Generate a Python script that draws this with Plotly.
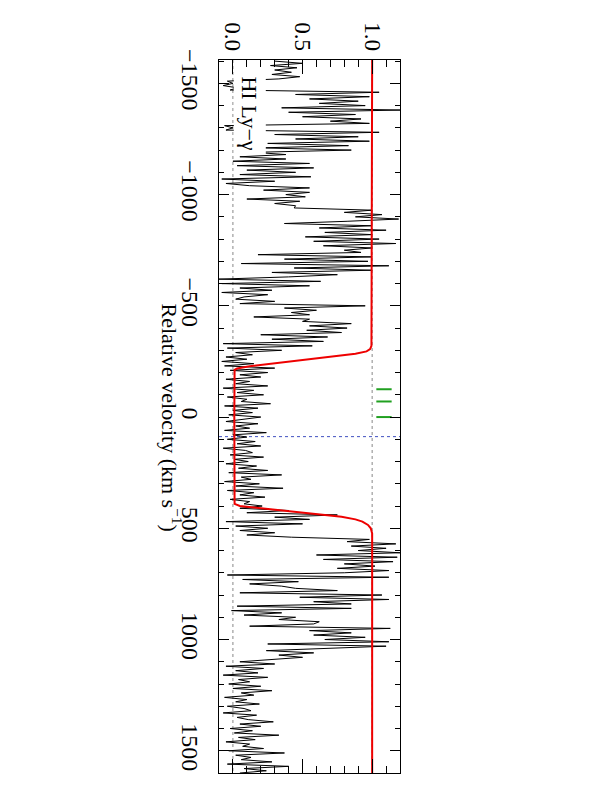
import numpy as np
import plotly.graph_objects as go

# velocity grid of the spectrum (km/s), one pixel every 10 km/s
velocity = np.arange(-1600, 1601, 10)

# normalised flux, piece by piece from top to bottom
flux_a = [0.30, 0.50, 0.27, 0.46, 0.30, 0.42, 0.28, 0.48, 0.33,
          -0.04, 0.00, -0.07, 0.03, -0.02,
          1.05, 0.45, 0.98, 0.55, 0.90, 0.62, 0.95,
          0.35, 1.20,
          0.40, 0.88, 0.50, 0.92, 0.70, 0.98,
          -0.06, 0.00, -0.05,
          1.05, 0.30, 0.90, 0.45, 0.98,
          0.25, 0.83, 0.20, 0.85,
          0.15, 0.38, 0.05,
          0.38, 0.00, 0.55, 0.03, 0.58, 0.10, 0.45, 0.05, 0.56]
flux_b = [-0.08, 0.30, -0.05, 0.12,
          0.55, 0.22, 0.55, 0.38, 0.52,
          0.10, 0.48, 0.30, 0.45,
          0.44, 1.00, 0.80,
          1.07, 0.88, 1.19,
          0.82, 0.37, 1.00, 0.62,
          1.10, 0.66, 1.00,
          0.52, 1.05, 0.58, 1.17,
          0.65, 1.00, 0.80, 0.92,
          0.18, 1.00, 0.37, 0.97,
          0.06, 1.12, 0.44, 1.00,
          0.28, 0.75, 0.40,
          -0.10, 0.63, -0.08, 0.55, 0.05,
          0.28, -0.08, 0.25, 0.08]
flux_c = [0.02, 0.30, 0.05, 0.95,
          0.37, 0.60, 0.42, 0.55,
          0.15, 0.55, 0.50, 0.85,
          0.55, 0.82, 0.53, 0.78,
          0.20, 0.68, 0.28, 0.65,
          -0.07, 0.57, -0.04, 0.35,
          0.02, 0.14, -0.05, 0.10, -0.08, 0.15,
          -0.06, 0.30, -0.02, 0.25,
          0.05, 0.20, -0.05, 0.12, 0.02, 0.25, -0.07, 0.15, 0.03, 0.22,
          -0.04, 0.10, 0.06, 0.27, -0.06, 0.18, 0.00, 0.14, -0.03, 0.20]
flux_d = [0.08, -0.05, 0.18, 0.02, 0.12, -0.06, 0.24, 0.00, 0.10, -0.04,
          0.16, 0.03, 0.20, -0.07, 0.09, 0.14, -0.02, 0.22, 0.01, 0.11,
          -0.05, 0.17, 0.04, 0.25, -0.03, 0.35, 0.06, 0.13, -0.06, 0.19,
          0.02, 0.36, -0.04, 0.15, 0.05, 0.23, -0.02, 0.12, 0.08, 0.21]
flux_e = [0.05, 0.40, 0.10, 0.75, 0.30, 0.55, -0.05, 0.50, 0.02, 0.25,
          0.05, 0.30, 0.10, 0.42]
flux_f = [0.98, 0.82, 1.17, 0.85, 1.10, 0.90,
          1.20, 0.60, 1.18, 0.65, 1.15, 0.80, 1.02, 0.75,
          1.12, 0.80, -0.04, 1.12,
          0.07, 0.47, 0.12, 0.35, 0.45,
          0.75, 0.05, 1.07,
          0.48, 1.12, 0.58, 0.85,
          0.03, 0.85, -0.01, 0.35,
          0.08, 0.45, 0.33, 0.62, 0.58,
          0.12, 1.13, 0.55,
          0.85, 0.58, 0.95, 0.66,
          1.12, 0.25, 1.10, 0.60,
          0.24, 0.58, 0.33, 0.50]
flux_g = [0.28, 0.05, 0.30, -0.05, 0.22, 0.02, 0.18, -0.07, 0.25, 0.04,
          0.12, -0.03, 0.20, 0.00, 0.28, 0.06, 0.15, -0.06, 0.10, 0.02,
          0.19, -0.04, 0.08, 0.13, -0.07, 0.17, 0.03, 0.11, 0.29, 0.05,
          0.20, -0.02, 0.14, 0.01, 0.33, 0.04, 0.16, -0.05, 0.12, 0.07,
          0.22, -0.03, 0.37, 0.02, 0.13, 0.06, 0.28, -0.04, 0.40, 0.08,
          0.24, 0.05]
flux = flux_a + flux_b + flux_c + flux_d + flux_e + flux_f + flux_g
assert len(flux) == len(velocity)

# fitted model (red)
model_v = [-1605, -400, -340, -320, -305, -295, -285, -270, -255, -240,
           -228, -218, -212, 0, 200, 390, 400, 411, 426, 440, 448, 460,
           470, 485, 500, 523, 1600]
model_flux = [1.0, 1.0, 1.0, 0.995, 0.985, 0.96, 0.88, 0.68, 0.47, 0.28,
              0.12, 0.03, 0.012, 0.01, 0.01, 0.012, 0.05, 0.22, 0.49,
              0.68, 0.78, 0.88, 0.93, 0.97, 0.99, 1.0, 1.0]

# component positions (green ticks) and systemic velocity (blue dotted)
components_v = [-125, -70, 0]
comp_flux = [1.03, 1.14]
systemic_v = 88
ref_levels = [0.0, 1.0]

v_range = [1600, -1605]
f_range = [-0.1, 1.2]
font = dict(family="Liberation Serif", size=22, color="black")

fig = go.Figure()

for lvl in ref_levels:
    fig.add_trace(go.Scatter(x=[lvl, lvl], y=[v_range[1], v_range[0]], mode='lines',
                             line=dict(color='#888888', width=1, dash='dot'),
                             hoverinfo='skip'))
fig.add_trace(go.Scatter(x=f_range, y=[systemic_v, systemic_v], mode='lines',
                         line=dict(color='#4050c0', width=1, dash='dot'),
                         hoverinfo='skip'))

fig.add_trace(go.Scatter(x=flux, y=velocity, mode='lines',
                         line=dict(color='black', width=1)))
fig.add_trace(go.Scatter(x=model_flux, y=model_v, mode='lines',
                         line=dict(color='#ee0000', width=2)))

for cv in components_v:
    fig.add_trace(go.Scatter(x=comp_flux, y=[cv, cv], mode='lines',
                             line=dict(color='#20a020', width=2)))

fig.add_annotation(x=0.122, y=-1365, xref='x', yref='y', text="HI Ly−γ",
                   textangle=90, showarrow=False, bgcolor='white',
                   borderpad=3, font=font)
fig.add_annotation(x=-0.262, y=0, xref='paper', yref='y',
                   xanchor='center', yanchor='middle',
                   text="Relative velocity (km s<sup>−1</sup>)",
                   textangle=90, showarrow=False, font=font)

fig.update_layout(
    width=600, height=789,
    margin=dict(l=211, r=208, t=52, b=24),
    paper_bgcolor='white', plot_bgcolor='white',
    showlegend=False, font=font,
    xaxis=dict(range=f_range, side='top', tickvals=[0, 0.5, 1.0],
               ticktext=['0.0', '0.5', '1.0'], tickangle=90,
               tickfont=dict(family="Liberation Serif", size=23, color="black"),
               ticks='inside', ticklen=14, tickwidth=1, tickcolor='black',
               showline=True, linecolor='black', linewidth=1,
               mirror='allticks', showgrid=False, zeroline=False,
               minor=dict(tickmode='linear', tick0=0, dtick=0.1,
                          ticks='inside', ticklen=7, tickcolor='black',
                          showgrid=False)),
    yaxis=dict(range=v_range, tickvals=[-1500, -1000, -500, 0, 500, 1000, 1500],
               tickangle=90,
               tickfont=dict(family="Liberation Serif", size=24, color="black"),
               ticks='inside', ticklen=10, tickwidth=1,
               tickcolor='black', showline=True, linecolor='black',
               linewidth=1, mirror='allticks', showgrid=False,
               zeroline=False, ticklabelstandoff=7,
               minor=dict(tickmode='linear', tick0=0, dtick=100,
                          ticks='inside', ticklen=5, tickcolor='black',
                          showgrid=False)),
)

fig.write_html("out.html")
